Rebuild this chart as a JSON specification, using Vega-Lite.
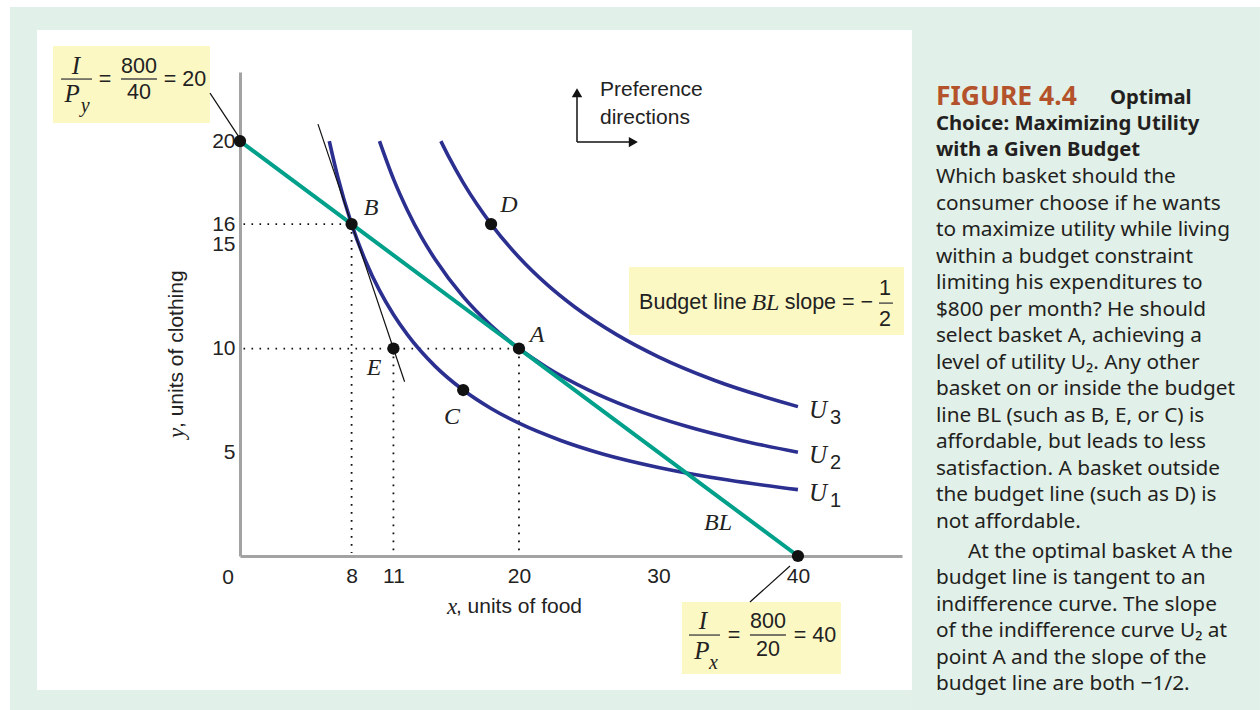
{
  "$schema": "https://vega.github.io/schema/vega-lite/v6.json",
  "width": 662,
  "height": 484,
  "autosize": {"type": "none"},
  "padding": {"left": 240, "top": 72, "right": 358, "bottom": 154},
  "background": "#ffffff",
  "config": {
    "view": {"stroke": null},
    "axis": {
      "grid": false, "ticks": false, "domainColor": "#a3a3a3", "domainWidth": 3,
      "labelFont": "Liberation Sans", "labelFontSize": 21, "labelColor": "#222222",
      "labelFlush": false, "labelOverlap": false, "labelBound": false
    },
    "axisX": {"labelPadding": 9},
    "axisY": {"labelPadding": 5}
  },
  "datasets": {
    "greenAreas": [
      {"x": -16.49, "x2": 73.12, "y": 26.46, "y2": 25.35},
      {"x": -16.49, "x2": -14.55, "y": 25.35, "y2": -7.42},
      {"x": -14.55, "x2": 48.17, "y": -6.46, "y2": -7.42},
      {"x": 48.17, "x2": 73.12, "y": 25.35, "y2": -7.42}
    ],
    "boxes": [
      {"box": "Py", "x": -13.41, "x2": -2.15, "y": 24.58, "y2": 20.87},
      {"box": "Px", "x": 31.68, "x2": 43.08, "y": -2.22, "y2": -5.69},
      {"box": "slope", "x": 27.89, "x2": 47.6, "y": 13.93, "y2": 10.65}
    ],
    "fracBars": [
      {"x": -12.83, "x2": -10.61, "y": 22.99, "y2": 22.99},
      {"x": -8.53, "x2": -5.95, "y": 22.99, "y2": 22.99},
      {"x": 32.19, "x2": 34.41, "y": -3.81, "y2": -3.81},
      {"x": 36.56, "x2": 39.14, "y": -3.81, "y2": -3.81},
      {"x": 45.81, "x2": 46.81, "y": 12.19, "y2": 12.19}
    ],
    "dotted": [
      {"x": 0.25, "x2": 8, "y": 16, "y2": 16},
      {"x": 8, "x2": 8, "y": 16, "y2": 0.15},
      {"x": 0.25, "x2": 20, "y": 10, "y2": 10},
      {"x": 11, "x2": 11, "y": 10, "y2": 0.15},
      {"x": 20, "x2": 20, "y": 10, "y2": 0.15}
    ],
    "thinLines": [
      {"name": "tangent at B", "x": 5.59, "x2": 11.8, "y": 20.82, "y2": 8.4},
      {"name": "leader I/Py", "x": -2.15, "x2": -0.07, "y": 22.31, "y2": 20.19},
      {"name": "leader I/Px", "x": 36.56, "x2": 39.43, "y": -2.22, "y2": -0.48}
    ],
    "arrows": [
      {"x": 24.16, "x2": 24.16, "y": 19.95, "y2": 22.3},
      {"x": 24.16, "x2": 28.1, "y": 19.95, "y2": 19.95}
    ],
    "arrowHeads": [
      {"dir": "up", "x": 24.16, "y": 22.33},
      {"dir": "right", "x": 28.2, "y": 19.95}
    ],
    "curves": [
      {"curve": "U1", "x": 6.4, "y": 20}, {"curve": "U1", "x": 7, "y": 18.29}, {"curve": "U1", "x": 8, "y": 16},
      {"curve": "U1", "x": 9, "y": 14.22}, {"curve": "U1", "x": 10, "y": 12.8}, {"curve": "U1", "x": 11, "y": 11.64},
      {"curve": "U1", "x": 12, "y": 10.67}, {"curve": "U1", "x": 14, "y": 9.14}, {"curve": "U1", "x": 16, "y": 8},
      {"curve": "U1", "x": 18, "y": 7.11}, {"curve": "U1", "x": 20, "y": 6.4}, {"curve": "U1", "x": 23, "y": 5.57},
      {"curve": "U1", "x": 26, "y": 4.92}, {"curve": "U1", "x": 30, "y": 4.27}, {"curve": "U1", "x": 35, "y": 3.66},
      {"curve": "U1", "x": 40, "y": 3.2},
      {"curve": "U2", "x": 10, "y": 20}, {"curve": "U2", "x": 11, "y": 18.18}, {"curve": "U2", "x": 12, "y": 16.67},
      {"curve": "U2", "x": 13, "y": 15.38}, {"curve": "U2", "x": 14, "y": 14.29}, {"curve": "U2", "x": 16, "y": 12.5},
      {"curve": "U2", "x": 18, "y": 11.11}, {"curve": "U2", "x": 20, "y": 10}, {"curve": "U2", "x": 22, "y": 9.09},
      {"curve": "U2", "x": 25, "y": 8}, {"curve": "U2", "x": 28, "y": 7.14}, {"curve": "U2", "x": 32, "y": 6.25},
      {"curve": "U2", "x": 36, "y": 5.56}, {"curve": "U2", "x": 40, "y": 5},
      {"curve": "U3", "x": 14.4, "y": 20}, {"curve": "U3", "x": 15, "y": 19.2}, {"curve": "U3", "x": 16, "y": 18},
      {"curve": "U3", "x": 17, "y": 16.94}, {"curve": "U3", "x": 18, "y": 16}, {"curve": "U3", "x": 20, "y": 14.4},
      {"curve": "U3", "x": 22, "y": 13.09}, {"curve": "U3", "x": 24, "y": 12}, {"curve": "U3", "x": 27, "y": 10.67},
      {"curve": "U3", "x": 30, "y": 9.6}, {"curve": "U3", "x": 34, "y": 8.47}, {"curve": "U3", "x": 40, "y": 7.2}
    ],
    "budget": [
      {"x": 0, "y": 20}, {"x": 40, "y": 0}
    ],
    "points": [
      {"basket": "y-intercept", "x": 0, "y": 20},
      {"basket": "B", "x": 8, "y": 16},
      {"basket": "E", "x": 11, "y": 10},
      {"basket": "A", "x": 20, "y": 10},
      {"basket": "C", "x": 16, "y": 8},
      {"basket": "D", "x": 18, "y": 16},
      {"basket": "x-intercept", "x": 40, "y": 0}
    ],
    "origin": [{"t": "0", "x": 0, "y": 0}],
    "italicLabels": [
      {"t": "B", "x": 9.39, "y": 16.77},
      {"t": "A", "x": 21.29, "y": 10.65},
      {"t": "E", "x": 9.61, "y": 9.06},
      {"t": "C", "x": 15.2, "y": 6.7},
      {"t": "D", "x": 19.28, "y": 16.92},
      {"t": "BL", "x": 34.27, "y": 1.59},
      {"t": "BL", "x": 37.67, "y": 12.19}
    ],
    "curveLabels": [
      {"u": "U", "sub": "3", "x": 40.79, "y": 7.04},
      {"u": "U", "sub": "2", "x": 40.79, "y": 4.87},
      {"u": "U", "sub": "1", "x": 40.79, "y": 3.04}
    ],
    "formulaItalic": [
      {"t": "I", "x": -11.76, "y": 23.62},
      {"t": "P", "x": -12.04, "y": 22.27},
      {"t": "I", "x": 33.19, "y": -3.13},
      {"t": "P", "x": 33.12, "y": -4.6}
    ],
    "formulaSub": [
      {"t": "y", "x": -11.1, "y": 21.68},
      {"t": "x", "x": 33.95, "y": -5.16}
    ],
    "formulaSans": [
      {"t": "=", "x": -9.68, "y": 22.94},
      {"t": "800", "x": -7.24, "y": 23.57},
      {"t": "40", "x": -7.24, "y": 22.31},
      {"t": "= 20", "x": -3.94, "y": 22.94},
      {"t": "=", "x": 35.41, "y": -3.86},
      {"t": "800", "x": 37.85, "y": -3.18},
      {"t": "20", "x": 37.85, "y": -4.53},
      {"t": "= 40", "x": 41.22, "y": -3.86},
      {"t": "Budget line", "x": 32.47, "y": 12.19},
      {"t": "slope = \u2212", "x": 42.22, "y": 12.19},
      {"t": "1", "x": 46.24, "y": 12.87},
      {"t": "2", "x": 46.24, "y": 11.37}
    ],
    "prefText": [
      {"t": "Preference", "x": 25.81, "y": 22.46},
      {"t": "directions", "x": 25.81, "y": 21.11}
    ],
    "xTitleVar": [{"t": "x", "x": 14.84, "y": -2.46}],
    "xTitleText": [{"t": ", units of food", "x": 15.48, "y": -2.46}],
    "yTitleVar": [{"t": "y", "x": -4.52, "y": 5.69}],
    "yTitleText": [{"t": ", units of clothing", "x": -4.52, "y": 6.17}],
    "figNumber": [{"t": "FIGURE 4.4", "x": 49.89, "y": 22.14}],
    "captionBold": [
      {"t": "Optimal", "x": 62.37, "y": 22.07},
      {"t": "Choice: Maximizing Utility", "x": 49.89, "y": 20.82},
      {"t": "with a Given Budget", "x": 49.89, "y": 19.57}
    ],
    "caption": [
      {"t": "Which basket should the", "x": 49.89, "y": 18.27},
      {"t": "consumer choose if he wants", "x": 49.89, "y": 16.96},
      {"t": "to maximize utility while living", "x": 49.89, "y": 15.71},
      {"t": "within a budget constraint", "x": 49.89, "y": 14.41},
      {"t": "limiting his expenditures to", "x": 49.89, "y": 13.16},
      {"t": "$800 per month? He should", "x": 49.89, "y": 11.86},
      {"t": "select basket A, achieving a", "x": 49.89, "y": 10.6},
      {"t": "level of utility U\u2082. Any other", "x": 49.89, "y": 9.3},
      {"t": "basket on or inside the budget", "x": 49.89, "y": 8.05},
      {"t": "line BL (such as B, E, or C) is", "x": 49.89, "y": 6.75},
      {"t": "affordable, but leads to less", "x": 49.89, "y": 5.49},
      {"t": "satisfaction. A basket outside", "x": 49.89, "y": 4.19},
      {"t": "the budget line (such as D) is", "x": 49.89, "y": 2.94},
      {"t": "not affordable.", "x": 49.89, "y": 1.64},
      {"t": "At the optimal basket A the", "x": 52.19, "y": 0.19},
      {"t": "budget line is tangent to an", "x": 49.89, "y": -1.06},
      {"t": "indifference curve. The slope", "x": 49.89, "y": -2.36},
      {"t": "of the indifference curve U\u2082 at", "x": 49.89, "y": -3.61},
      {"t": "point A and the slope of the", "x": 49.89, "y": -4.92},
      {"t": "budget line are both \u22121/2.", "x": 49.89, "y": -6.17}
    ]
  },
  "encoding": {
    "x": {
      "field": "x", "type": "quantitative",
      "scale": {"domain": [0, 47.46], "nice": false, "zero": false},
      "axis": {"values": [8, 11, 20, 30, 40], "title": null}
    },
    "y": {
      "field": "y", "type": "quantitative",
      "scale": {"domain": [0, 23.33], "nice": false, "zero": false},
      "axis": {"values": [5, 10, 15, 16, 20], "title": null}
    }
  },
  "layer": [
    {"data": {"name": "greenAreas"}, "mark": {"type": "rect", "color": "#e1f0e8"},
     "encoding": {"x2": {"field": "x2"}, "y2": {"field": "y2"}}},
    {"data": {"name": "boxes"}, "mark": {"type": "rect", "color": "#fcf8c3"},
     "encoding": {"x2": {"field": "x2"}, "y2": {"field": "y2"}}},
    {"data": {"name": "fracBars"}, "mark": {"type": "rule", "color": "#4a4a4a", "strokeWidth": 1.4},
     "encoding": {"x2": {"field": "x2"}, "y2": {"field": "y2"}}},
    {"data": {"name": "dotted"}, "mark": {"type": "rule", "color": "#111111", "strokeWidth": 1.8, "strokeDash": [1.6, 6.4]},
     "encoding": {"x2": {"field": "x2"}, "y2": {"field": "y2"}}},
    {"data": {"name": "curves"}, "mark": {"type": "line", "color": "#2b2f8f", "strokeWidth": 3.6, "interpolate": "monotone"},
     "encoding": {"detail": {"field": "curve"}}},
    {"data": {"name": "budget"}, "mark": {"type": "line", "color": "#00a08b", "strokeWidth": 4}, "encoding": {}},
    {"data": {"name": "thinLines"}, "mark": {"type": "rule", "color": "#111111", "strokeWidth": 1.2},
     "encoding": {"x2": {"field": "x2"}, "y2": {"field": "y2"}}},
    {"data": {"name": "arrows"}, "mark": {"type": "rule", "color": "#111111", "strokeWidth": 1.5},
     "encoding": {"x2": {"field": "x2"}, "y2": {"field": "y2"}}},
    {"data": {"name": "arrowHeads"}, "mark": {"type": "point", "filled": true, "color": "#111111", "size": 110, "opacity": 1},
     "encoding": {"shape": {"field": "dir", "type": "nominal", "scale": {"domain": ["up", "right"], "range": ["triangle-up", "triangle-right"]}, "legend": null}}},
    {"data": {"name": "points"}, "mark": {"type": "circle", "color": "#111111", "size": 150, "opacity": 1}, "encoding": {}},
    {"data": {"name": "origin"}, "mark": {"type": "text", "font": "Liberation Sans", "fontSize": 21, "align": "center", "baseline": "top", "dx": -12, "dy": 11, "color": "#222222"},
     "encoding": {"text": {"field": "t"}}},
    {"data": {"name": "italicLabels"}, "mark": {"type": "text", "font": "Liberation Serif", "fontStyle": "italic", "fontSize": 24, "align": "center", "baseline": "middle", "color": "#222222"},
     "encoding": {"text": {"field": "t"}}},
    {"data": {"name": "curveLabels"}, "mark": {"type": "text", "font": "Liberation Serif", "fontStyle": "italic", "fontSize": 25, "align": "left", "baseline": "middle", "color": "#222222"},
     "encoding": {"text": {"field": "u"}}},
    {"data": {"name": "curveLabels"}, "mark": {"type": "text", "font": "Liberation Sans", "fontSize": 20, "align": "left", "baseline": "middle", "color": "#222222", "dx": 21, "dy": 8},
     "encoding": {"text": {"field": "sub"}}},
    {"data": {"name": "formulaItalic"}, "mark": {"type": "text", "font": "Liberation Serif", "fontStyle": "italic", "fontSize": 25, "align": "center", "baseline": "middle", "color": "#222222"},
     "encoding": {"text": {"field": "t"}}},
    {"data": {"name": "formulaSub"}, "mark": {"type": "text", "font": "Liberation Serif", "fontStyle": "italic", "fontSize": 20, "align": "center", "baseline": "middle", "color": "#222222"},
     "encoding": {"text": {"field": "t"}}},
    {"data": {"name": "formulaSans"}, "mark": {"type": "text", "font": "Liberation Sans", "fontSize": 21.5, "align": "center", "baseline": "middle", "color": "#222222"},
     "encoding": {"text": {"field": "t"}}},
    {"data": {"name": "prefText"}, "mark": {"type": "text", "font": "Liberation Sans", "fontSize": 21, "align": "left", "baseline": "middle", "color": "#222222"},
     "encoding": {"text": {"field": "t"}}},
    {"data": {"name": "xTitleVar"}, "mark": {"type": "text", "font": "Liberation Serif", "fontStyle": "italic", "fontSize": 23, "align": "left", "baseline": "middle", "color": "#222222"},
     "encoding": {"text": {"field": "t"}}},
    {"data": {"name": "xTitleText"}, "mark": {"type": "text", "font": "Liberation Sans", "fontSize": 21, "align": "left", "baseline": "middle", "color": "#222222"},
     "encoding": {"text": {"field": "t"}}},
    {"data": {"name": "yTitleVar"}, "mark": {"type": "text", "font": "Liberation Serif", "fontStyle": "italic", "fontSize": 23, "align": "left", "baseline": "middle", "angle": 270, "color": "#222222"},
     "encoding": {"text": {"field": "t"}}},
    {"data": {"name": "yTitleText"}, "mark": {"type": "text", "font": "Liberation Sans", "fontSize": 21, "align": "left", "baseline": "middle", "angle": 270, "color": "#222222"},
     "encoding": {"text": {"field": "t"}}},
    {"data": {"name": "figNumber"}, "mark": {"type": "text", "font": "Noto Sans", "fontWeight": "bold", "fontSize": 26.5, "align": "left", "baseline": "middle", "color": "#b4522b"},
     "encoding": {"text": {"field": "t"}}},
    {"data": {"name": "captionBold"}, "mark": {"type": "text", "font": "Noto Sans", "fontWeight": "bold", "fontSize": 20.3, "align": "left", "baseline": "middle", "color": "#231f20"},
     "encoding": {"text": {"field": "t"}}},
    {"data": {"name": "caption"}, "mark": {"type": "text", "font": "Noto Sans", "fontSize": 20.8, "align": "left", "baseline": "middle", "color": "#231f20"},
     "encoding": {"text": {"field": "t"}}}
  ]
}
